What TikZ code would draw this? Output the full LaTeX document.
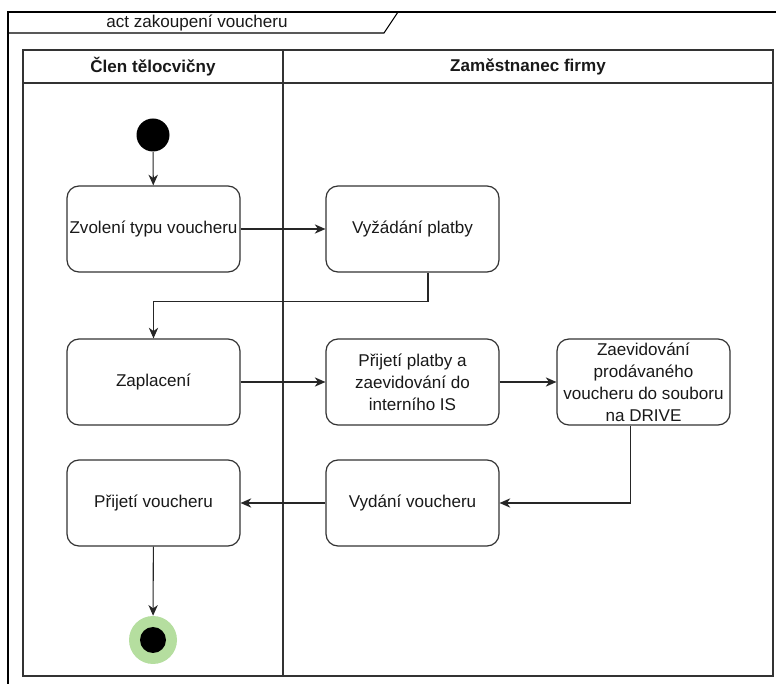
\documentclass[tikz,border=0pt]{standalone}
\usepackage{fontspec}
\setmainfont{Liberation Sans}
\usetikzlibrary{arrows.meta,positioning}
\definecolor{linegray}{HTML}{333333}
\definecolor{endgreen}{HTML}{B5DE9F}
\tikzset{
  lbl/.style={font=\fontsize{12.8}{16.5}\selectfont, text=black!90},
  action/.style={draw=linegray, line width=0.9pt, rounded corners=9pt,
    minimum width=129.75pt, minimum height=64.5pt, inner sep=0pt,
    align=center, lbl, fill=white},
  flow/.style={draw=black!85, line width=0.8pt,
    -{Stealth[length=8pt,width=7pt,inset=2.5pt]}},
  lane/.style={draw=linegray, line width=0.9pt},
}
\begin{document}
\begin{tikzpicture}[x=0.75pt,y=-0.75pt]
\useasboundingbox (0,0) rectangle (776,684);
\fill[white] (0,0) rectangle (776,684);

% outer activity frame and its name tab
\draw[black, line width=0.8pt] (8,690) -- (8,12) -- (790,12);
\draw[black, line width=0.8pt] (8,33) -- (384,33) -- (398,12);
\node[lbl] (title) at (197,23) {act zakoupení voucheru};

% swimlane pool
\draw[lane] (23,50) rectangle (773,676);
\draw[lane] (23,83) -- (773,83);
\draw[lane] (283,50) -- (283,676);
\node[lbl, font=\fontsize{12.8}{16.5}\selectfont\bfseries] (laneA) at (153,67) {Člen tělocvičny};
\node[lbl, font=\fontsize{12.8}{16.5}\selectfont\bfseries] (laneB) at (528,67) {Zaměstnanec firmy};

% initial and final states
\node[circle, fill=black, minimum size=33pt*0.75, inner sep=0pt] (start) at (153,135) {};
\node[circle, fill=endgreen, minimum size=48pt*0.75, inner sep=0pt] (end) at (153,640) {};
\node[circle, fill=black, minimum size=26pt*0.75, inner sep=0pt] (endin) at (153,640) {};

% actions
\node[action] (zvol) at (153.5,229) {Zvolení typu voucheru};
\node[action] (vyz)  at (412.5,229) {Vyžádání platby};
\node[action] (zapl) at (153.5,382) {Zaplacení};
\node[action] (prij) at (412.5,382) {Přijetí platby a\\zaevidování do\\interního IS};
\node[action] (zaev) at (643.5,382) {Zaevidování\\prodávaného\\voucheru do souboru\\na DRIVE};
\node[action] (pv)   at (153.5,503) {Přijetí voucheru};
\node[action] (vyd)  at (412.5,503) {Vydání voucheru};

% control flow
\draw[flow] (start) -- (zvol);
\draw[flow] (zvol) -- (vyz);
\draw[flow] ([xshift=11.6pt]vyz.south) -- ++(0,29) -| (zapl.north);
\draw[flow] (zapl) -- (prij);
\draw[flow] (prij) -- (zaev);
\draw[flow] ([xshift=-10.1pt]zaev.south) |- (vyd.east);
\draw[flow] (vyd) -- (pv);
\draw[flow] (pv) -- (end);
\end{tikzpicture}
\end{document}
